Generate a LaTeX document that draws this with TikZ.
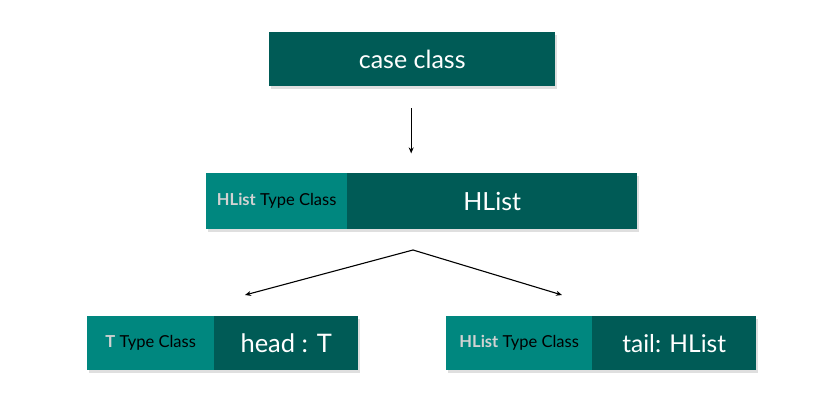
\documentclass[tikz,border=0pt]{standalone}
\usepackage{fontspec}
\setmainfont{Lato}
\usetikzlibrary{arrows.meta,shadows}

\definecolor{darkteal}{HTML}{005B56}
\definecolor{lightteal}{HTML}{00877F}
\definecolor{tagray}{HTML}{D2D2D2}

\tikzset{
    darkbox/.style={fill=darkteal, text=white, anchor=north west, inner sep=0pt,
        drop shadow={opacity=0.25, shadow xshift=1.5pt, shadow yshift=-2.5pt}},
    lightbox/.style={fill=lightteal, text=black, anchor=north west, inner sep=0pt,
        font=\fontsize{16.5}{18}\selectfont,
        drop shadow={opacity=0.25, shadow xshift=1.5pt, shadow yshift=-2.5pt}},
    arr/.style={-{Stealth[length=6pt,width=5pt]}, line width=1.1pt}
}
\newcommand{\tag}[1]{{\bfseries\color{tagray}#1}}

\begin{document}
\begin{tikzpicture}[x=1pt, y=-1pt]
        \useasboundingbox (0,0) rectangle (831,406);

        % Top
        \node[darkbox, minimum width=286pt, minimum height=54pt, font=\fontsize{25}{28}\selectfont] (cc) at (269,32) {case class};

        % Middle
        \node[lightbox, minimum width=141pt, minimum height=56pt] (hltc) at (206,173) {\tag{HList} Type Class};
        \node[darkbox, minimum width=290pt, minimum height=56pt, font=\fontsize{25}{28}\selectfont] (hl) at (347,173) {HList};

        % Bottom
        \node[lightbox, minimum width=127pt, minimum height=54pt] (ttc) at (87,316) {\tag{T} Type Class};
        \node[darkbox, minimum width=144pt, minimum height=54pt, font=\fontsize{25.5}{28}\selectfont] (head) at (214,316) {head : T};

        \node[lightbox, minimum width=146pt, minimum height=54pt] (tltc) at (446,316) {\tag{HList} Type Class};
        \node[darkbox, minimum width=164pt, minimum height=54pt, font=\fontsize{24.5}{28}\selectfont] (tail) at (592,316) {tail: HList};

        % Connections
        \coordinate (fork) at (413,250);
        \coordinate (headtip) at (245,295);
        \coordinate (tailtip) at (562,295);

        \draw[arr] ([xshift=-1pt]cc.south) ++(0,22) -- ++(0,45);
        \draw[arr] (fork) -- (headtip);
        \draw[arr] (fork) -- (tailtip);
    \end{tikzpicture}
\end{document}
